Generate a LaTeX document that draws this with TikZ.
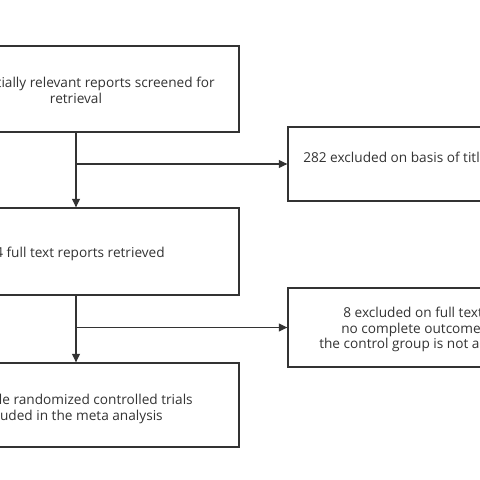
\documentclass[tikz,border=0pt]{standalone}
\usepackage{fontspec}
\setmainfont{Open Sans}
\definecolor{FlowInk}{HTML}{333333}
\usetikzlibrary{positioning,arrows.meta}
\begin{document}
\begin{tikzpicture}[x=0.025cm, y=-0.025cm,
    box/.style={rectangle, draw=FlowInk, line width=0.9pt, fill=white, inner sep=0pt},
    txt/.style={inner sep=0pt, font=\fontsize{9.7}{11}\selectfont, text=FlowInk},
    flow/.style={-{Triangle[length=6pt, width=5.5pt]}, draw=FlowInk, line width=0.9pt}]
    \useasboundingbox (0,0) rectangle (480,480);
    \clip (0,0) rectangle (480,480);
    \fill[white] (0,0) rectangle (480,480);
    \node[box, minimum width=326*0.025cm, minimum height=86*0.025cm] (screen) at (76,89) {};
    \node[box, minimum width=264*0.025cm, minimum height=74*0.025cm] (titles) at (420,164) {};
    \node[box, minimum width=326*0.025cm, minimum height=87*0.025cm] (fulltext) at (76,251.5) {};
    \node[box, minimum width=264*0.025cm, minimum height=79*0.025cm] (excl) at (420,327.5) {};
    \node[box, minimum width=326*0.025cm, minimum height=84*0.025cm] (included) at (76,405) {};
    \node[txt, anchor=base east] (screen1) at (215,87) {tially relevant reports screened for};
    \node[txt, anchor=base] (screen2) at (76,103) {retrieval};
    \node[txt, anchor=base west] (titles1) at (303,162) {282 excluded on basis of titl};
    \node[txt, anchor=base east] (fulltext1) at (165,257) {4 full text reports retrieved};
    \node[txt, anchor=base west] (excl1) at (343,317) {8 excluded on full text};
    \node[txt, anchor=base west] (excl2) at (341,333) {no complete outcome};
    \node[txt, anchor=base west] (excl3) at (319,348) {the control group is not a};
    \node[txt, anchor=base east] (included1) at (193,404) {ble randomized controlled trials};
    \node[txt, anchor=base east] (included2) at (163,420) {cluded in the meta analysis};
    \coordinate (fork1) at (76,164);
    \coordinate (fork2) at (76,327.5);
    \draw[flow] (screen.south) -- (fulltext.north);
    \draw[flow] (fork1) -- (titles.west);
    \draw[flow] (fulltext.south) -- (included.north);
    \draw[flow] (fork2) -- (excl.west);
\end{tikzpicture}
\end{document}
